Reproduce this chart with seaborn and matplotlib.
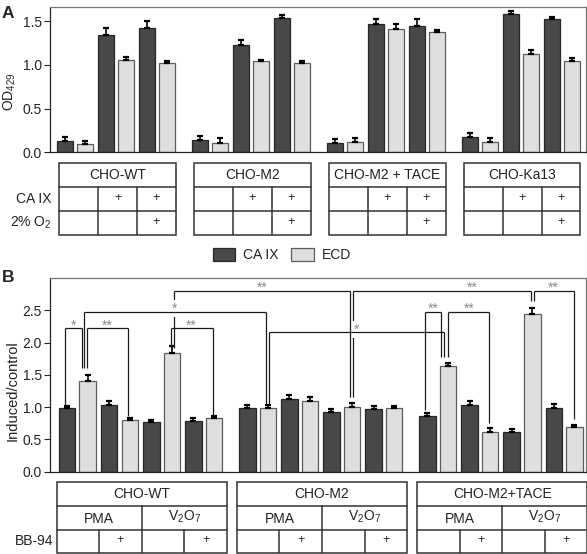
import numpy as np
import pandas as pd
import matplotlib
matplotlib.use("Agg")
import matplotlib.pyplot as plt
from matplotlib.patches import Patch, Rectangle
import seaborn as sns


# ---------------------------------------------------------------
# Data

series = ["CA IX", "ECD"]

# Panel A: OD429, 4 cell lines x 3 conditions
cells_a = ["CHO-WT", "CHO-M2", "CHO-M2 + TACE", "CHO-Ka13"]
caix_flags_a = ["", "+", "+"]
o2_flags_a = ["", "", "+"]

caix_a = [0.13, 1.34, 1.42, 0.14, 1.23, 1.54, 0.11, 1.47, 1.44, 0.175, 1.58, 1.52]
caix_a_err = [0.04, 0.08, 0.08, 0.045, 0.05, 0.03, 0.045, 0.05, 0.08, 0.045, 0.04, 0.03]
ecd_a = [0.09, 1.06, 1.02, 0.11, 1.04, 1.02, 0.12, 1.41, 1.37, 0.12, 1.12, 1.04]
ecd_a_err = [0.04, 0.03, 0.025, 0.05, 0.02, 0.025, 0.04, 0.06, 0.03, 0.045, 0.045, 0.04]

# Panel B: induced/control, 3 cell lines x 4 conditions
cells_b = ["CHO-WT", "CHO-M2", "CHO-M2+TACE"]
inducers_b = ["PMA", "V$_2$O$_7$"]
bb94_flags_b = ["", "+", "", "+"]

caix_b = [0.98, 1.03, 0.77, 0.79, 0.99, 1.13, 0.93, 0.97, 0.87, 1.04, 0.61, 0.99]
caix_b_err = [0.045, 0.06, 0.035, 0.045, 0.04, 0.06, 0.04, 0.05, 0.035, 0.06, 0.05, 0.06]
ecd_b = [1.41, 0.80, 1.84, 0.83, 0.98, 1.10, 1.00, 0.98, 1.64, 0.62, 2.45, 0.69]
ecd_b_err = [0.08, 0.035, 0.10, 0.03, 0.05, 0.05, 0.07, 0.03, 0.05, 0.05, 0.09, 0.04]

# significance brackets in panel B (bars counted left to right, 0..23)
bracket_labels = ["*", "**", "*", "**", "**", "*", "**", "**", "**", "**"]
bracket_left = [0, 1, 1, 5, 5, 9, 13, 21, 16, 17]
bracket_right = [1, 3, 9, 13, 7, 17, 21, 23, 17, 19]
bracket_level = [2.22, 2.22, 2.48, 2.80, 2.22, 2.16, 2.80, 2.80, 2.48, 2.48]
bracket_left_end = [1.04, 1.61, 1.61, 1.92, 1.92, 1.04, 1.16, 2.64, 0.96, 1.78]
bracket_right_end = [1.61, 0.87, 1.04, 1.16, 0.87, 1.78, 2.64, 0.82, 1.78, 0.76]


# ---------------------------------------------------------------
# Style

sns.set_style("ticks")
plt.rcParams["font.family"] = ["Liberation Sans", "DejaVu Sans"]
plt.rcParams["mathtext.fontset"] = "custom"
plt.rcParams["mathtext.rm"] = "Liberation Sans"
plt.rcParams["mathtext.it"] = "Liberation Sans:italic"
plt.rcParams["mathtext.default"] = "regular"

dark, light = "#484848", "#dedede"
edge_dark, edge_light = "#262626", "#5c5c5c"
line_c = "#333333"
text_c = "#222222"

fig = plt.figure(figsize=(5.87, 5.54), dpi=100)
W, H = 587, 554


def px_axes(x0, y0, x1, y1):
    return fig.add_axes([x0 / W, 1 - y1 / H, (x1 - x0) / W, (y1 - y0) / H])


def bar_panel(ax, pos, caix, caix_err, ecd, ecd_err):
    df = pd.DataFrame({
        "pos": list(pos) * 2,
        "value": list(caix) + list(ecd),
        "series": [series[0]] * len(pos) + [series[1]] * len(pos),
    })
    sns.barplot(data=df, x="pos", y="value", hue="series", hue_order=series,
                palette=[dark, light], saturation=1, native_scale=True,
                width=0.98, gap=0.2, errorbar=None, legend=False,
                linewidth=0.9, ax=ax)

    bars = sorted(ax.patches, key=lambda p: p.get_x())
    for k, p in enumerate(bars):
        p.set_edgecolor(edge_dark if k % 2 == 0 else edge_light)
    xs = np.array([p.get_x() + p.get_width() / 2 for p in bars])
    hs = np.array([p.get_height() for p in bars])
    errs = np.ravel(np.column_stack([caix_err, ecd_err]))
    ax.errorbar(xs, hs, yerr=[np.zeros(len(errs)), errs], fmt="none",
                ecolor="black", elinewidth=1.2, capsize=2.4, capthick=1.6)

    ax.set_xticks([])
    ax.set_xlabel("")
    for side in ["left", "bottom"]:
        ax.spines[side].set_color("#222222")
    for side in ["top", "right"]:
        ax.spines[side].set_visible(True)
        ax.spines[side].set_color("#777777")
    for s in ax.spines.values():
        s.set_linewidth(0.9)
    ax.tick_params(axis="y", length=4, width=0.8, pad=2, labelsize=10,
                   labelcolor=text_c, color="#222222")
    return xs


def cell(ax, x, y, s, size=10):
    ax.text(x, y, s, ha="center", va="center", fontsize=size, color=text_c)


# -------------------------------------------------------------
# Panel A

pos_a = [g * 3.29 + c for g in range(4) for c in range(3)]
xlim_a = (-0.62, pos_a[-1] + 0.585)

ax_a = px_axes(50, 7, 586, 152.3)
bar_panel(ax_a, pos_a, caix_a, caix_a_err, ecd_a, ecd_a_err)
ax_a.set_xlim(xlim_a)
ax_a.set_ylim(0, 1.66)
ax_a.set_yticks([0, 0.5, 1.0, 1.5])
ax_a.set_yticklabels(["0.0", "0.5", "1.0", "1.5"])
ax_a.set_ylabel("OD$_{429}$", fontsize=10, color=text_c)
ax_a.yaxis.set_label_coords(-0.06, 0.42)

# table under panel A
tab_a = px_axes(50, 163.3, 586, 234.7)
tab_a.set_xlim(xlim_a)
tab_a.set_ylim(0, 3)
tab_a.axis("off")
for g, name in enumerate(cells_a):
    mid = pos_a[g * 3 + 1] + 0.03
    left, right = mid - 1.42, mid + 1.42
    colw = (right - left) / 3
    tab_a.add_patch(Rectangle((left, 0), right - left, 3, fill=False,
                              ec=line_c, lw=1.1, clip_on=False))
    tab_a.plot([left, right], [2, 2], color=line_c, lw=1.1)
    tab_a.plot([left, right], [1, 1], color=line_c, lw=1.1)
    for k in (1, 2):
        tab_a.plot([left + k * colw] * 2, [0, 2], color=line_c, lw=1.1)
    cell(tab_a, mid, 2.5, name)
    for k in range(3):
        cell(tab_a, left + (k + 0.5) * colw, 1.55, caix_flags_a[k], 9)
        cell(tab_a, left + (k + 0.5) * colw, 0.55, o2_flags_a[k], 9)

row_tf = tab_a.get_yaxis_transform()
tab_a.text(0.003, 1.5, "CA IX", transform=row_tf, ha="right", va="center",
           fontsize=10, color=text_c)
tab_a.text(0.003, 0.5, "2% O$_2$", transform=row_tf, ha="right", va="center",
           fontsize=10, color=text_c)

# legend between the panels
handles = [Patch(facecolor=dark, edgecolor=edge_dark, lw=0.9),
           Patch(facecolor=light, edgecolor=edge_light, lw=0.9)]
fig.legend(handles, series, ncol=2, loc="center",
           bbox_to_anchor=(282 / W, 1 - 255 / H), frameon=False, fontsize=10,
           handlelength=1.6, handleheight=1.05, handletextpad=0.6,
           columnspacing=0.9, borderpad=0, labelcolor=text_c)


# -------------------------------------------------------------
# Panel B

pos_b = [g * 4.28 + c for g in range(3) for c in range(4)]
xlim_b = (-0.65, pos_b[-1] + 0.52)

ax_b = px_axes(50, 278, 586, 471.7)
xs_b = bar_panel(ax_b, pos_b, caix_b, caix_b_err, ecd_b, ecd_b_err)
ax_b.set_xlim(xlim_b)
ax_b.set_ylim(0, 3.0)
ax_b.set_yticks([0, 0.5, 1.0, 1.5, 2.0, 2.5])
ax_b.set_yticklabels(["0.0", "0.5", "1.0", "1.5", "2.0", "2.5"])
ax_b.set_ylabel("Induced/control", fontsize=10.5, color=text_c)
ax_b.yaxis.set_label_coords(-0.056, 0.42)

# brackets: small sideways nudges so the legs do not overlap
nudges = [(-0.05, -0.13), (-0.01, -0.05), (-0.09, -0.05), (0.05, -0.05),
          (-0.03, -0.03), (0.03, -0.10), (0.03, -0.03), (0.03, -0.02),
          (-0.05, -0.18), (0.0, -0.02)]
label_frac = [0.5] * 10
label_frac[6] = 0.67
boxed = [2, 5]

for k, lab in enumerate(bracket_labels):
    x0 = xs_b[bracket_left[k]] + nudges[k][0]
    x1 = xs_b[bracket_right[k]] + nudges[k][1]
    lvl = bracket_level[k]
    ax_b.plot([x0, x1], [lvl, lvl], color="#1a1a1a", lw=0.9, zorder=6,
              solid_capstyle="butt")
    ax_b.plot([x0, x0], [bracket_left_end[k], lvl], color="#1a1a1a", lw=0.9,
              zorder=4, solid_capstyle="butt")
    ax_b.plot([x1, x1], [bracket_right_end[k], lvl], color="#1a1a1a", lw=0.9,
              zorder=4, solid_capstyle="butt")
    kw = {}
    if k in boxed:
        kw["bbox"] = dict(facecolor="white", edgecolor="none", pad=1.0)
    ax_b.text(x0 + label_frac[k] * (x1 - x0), lvl - 0.02, lab, ha="center",
              va="baseline", fontsize=10, color="#8a8a8a", zorder=5, **kw)

# table under panel B
tab_b = px_axes(50, 482.3, 586, 553.3)
tab_b.set_xlim(xlim_b)
tab_b.set_ylim(0, 3)
tab_b.axis("off")
for g, name in enumerate(cells_b):
    mid = (pos_b[g * 4] + pos_b[g * 4 + 3]) / 2 + 0.03
    left, right = mid - 2.02, mid + 2.02
    colw = (right - left) / 4
    tab_b.add_patch(Rectangle((left, 0), right - left, 3, fill=False,
                              ec=line_c, lw=1.1, clip_on=False))
    tab_b.plot([left, right], [2, 2], color=line_c, lw=1.1)
    tab_b.plot([left, right], [1, 1], color=line_c, lw=1.1)
    tab_b.plot([mid, mid], [0, 2], color=line_c, lw=1.1)
    for k in (1, 3):
        tab_b.plot([left + k * colw] * 2, [0, 1], color=line_c, lw=1.1)
    cell(tab_b, mid, 2.5, name)
    cell(tab_b, mid - colw, 1.45, inducers_b[0])
    cell(tab_b, mid + colw, 1.55, inducers_b[1])
    for k in range(4):
        cell(tab_b, left + (k + 0.5) * colw, 0.55, bb94_flags_b[k], 9)

tab_b.text(0.006, 0.5, "BB-94", transform=tab_b.get_yaxis_transform(),
           ha="right", va="center", fontsize=10, color=text_c)

# panel letters
fig.text(2 / W, 1 - 6 / H, "A", fontsize=12.5, fontweight="bold", va="top")
fig.text(2 / W, 1 - 270 / H, "B", fontsize=12.5, fontweight="bold", va="top")

fig.savefig("out.png", dpi=100)
